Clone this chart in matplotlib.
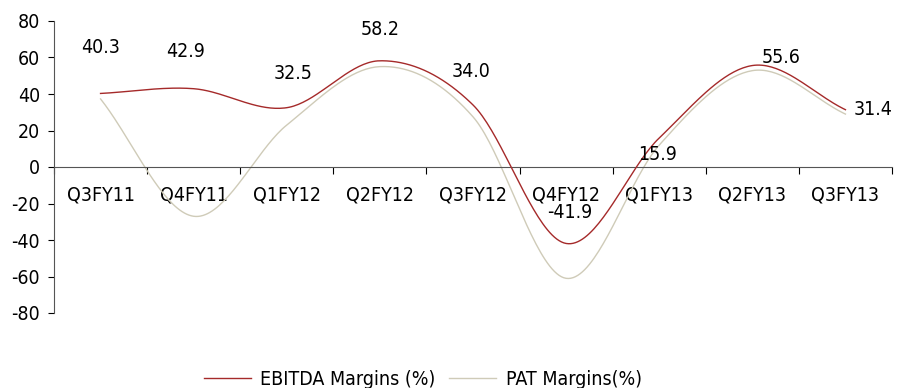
import numpy as np
import matplotlib
matplotlib.use("Agg")
import matplotlib.pyplot as plt

quarters = ["Q3FY11", "Q4FY11", "Q1FY12", "Q2FY12", "Q3FY12",
            "Q4FY12", "Q1FY13", "Q2FY13", "Q3FY13"]
ebitda = [40.3, 42.9, 32.5, 58.2, 34.0, -41.9, 15.9, 55.6, 31.4]
pat = [37.3, -27.0, 23.0, 55.0, 27.5, -61.0, 12.0, 52.8, 29.0]

# label offsets in pixels (dx, dy) as placed in the source chart
label_offsets = [(0, 46), (-8, 37), (6, 34), (0, 31), (-2, 33),
                 (4, 31), (-2, -17), (29, 8), (28, 0)]

plt.rcParams['font.family'] = ['DejaVu Sans']
plt.rcParams['font.stretch'] = 'condensed'
plt.rcParams['axes.unicode_minus'] = False


def smooth(y, n=40):
    # Catmull-Rom style smoothing like spreadsheet "smoothed line"
    y = np.asarray(y, dtype=float)
    m = len(y)
    t = np.zeros(m)
    for i in range(m):
        if i == 0:
            t[i] = y[1] - y[0]
        elif i == m - 1:
            t[i] = y[-1] - y[-2]
        else:
            t[i] = (y[i + 1] - y[i - 1]) / 2
    xs, ys = [], []
    for i in range(m - 1):
        s = np.linspace(0, 1, n, endpoint=(i == m - 2))
        h00 = 2 * s**3 - 3 * s**2 + 1
        h10 = s**3 - 2 * s**2 + s
        h01 = -2 * s**3 + 3 * s**2
        h11 = s**3 - s**2
        ys.append(h00 * y[i] + h10 * t[i] + h01 * y[i + 1] + h11 * t[i + 1])
        xs.append(i + s)
    return np.concatenate(xs), np.concatenate(ys)


fig = plt.figure(figsize=(9.06, 3.88), dpi=100)
ax = fig.add_axes([54 / 906, 1 - 313 / 388, 838 / 906, 292 / 388])

x = np.arange(len(quarters))
sx, sy = smooth(ebitda)
ax.plot(sx, sy, color="#A52A2A", lw=1.0, label="EBITDA Margins (%)", zorder=3)
px, py = smooth(pat)
ax.plot(px, py, color="#CFCBB8", lw=1.0, label="PAT Margins(%)", zorder=2)

for i, v in enumerate(ebitda):
    dx, dy = label_offsets[i]
    ax.annotate(f"{v:.1f}", (x[i], v), xytext=(dx * 0.72, dy * 0.72),
                textcoords="offset points", ha="center", va="center",
                fontsize=14, color="black")

ax.set_xlim(-0.5, len(quarters) - 0.5)
ax.set_ylim(-80, 80)
ax.set_yticks(range(-80, 81, 20))
ax.tick_params(axis="y", labelsize=14, length=4, width=0.8, direction="out", pad=6)

ax.spines["top"].set_visible(False)
ax.spines["right"].set_visible(False)
ax.spines["left"].set_color("#555555")
ax.spines["bottom"].set_position(("data", 0))
ax.spines["bottom"].set_color("#555555")

ax.set_xticks(np.arange(-0.5, len(quarters), 1))
ax.set_xticklabels([])
ax.set_xticks(x, minor=True)
ax.set_xticklabels(quarters, minor=True)
ax.tick_params(axis="x", which="major", length=5, width=0.8, direction="out")
ax.tick_params(axis="x", which="minor", length=0, labelsize=14, pad=13)

ax.legend(loc="center", bbox_to_anchor=(0.44, -0.228), ncol=2, frameon=False,
          fontsize=14, handlelength=2.4, columnspacing=0.7, handletextpad=0.5)

fig.savefig("out.png", dpi=100)
